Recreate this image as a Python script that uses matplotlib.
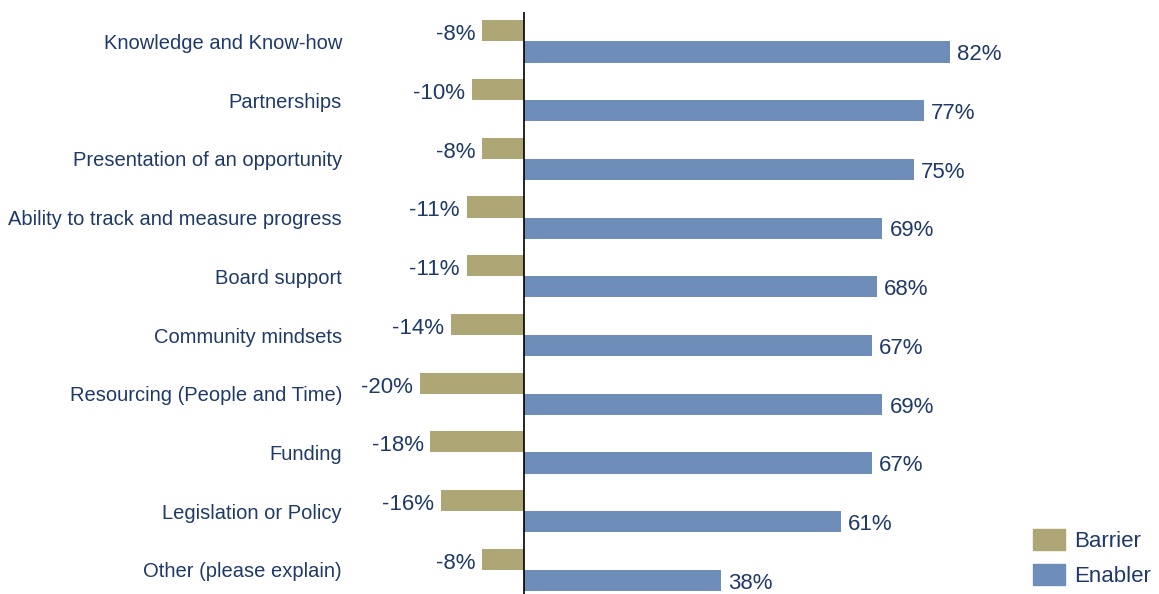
import matplotlib
matplotlib.use("Agg")
import matplotlib.pyplot as plt
from matplotlib.patches import Patch

categories = ["Knowledge and Know-how", "Partnerships", "Presentation of an opportunity",
              "Ability to track and measure progress", "Board support", "Community mindsets",
              "Resourcing (People and Time)", "Funding", "Legislation or Policy",
              "Other (please explain)"]
barrier = [-8, -10, -8, -11, -11, -14, -20, -18, -16, -8]
enabler = [82, 77, 75, 69, 68, 67, 69, 67, 61, 38]
series_names = ["Barrier", "Enabler"]

c_barrier = "#AFA675"
c_enabler = "#6E8DB9"
c_text = "#1F3A68"

plt.rcParams['font.family'] = ['Liberation Sans', 'DejaVu Sans']

W, H = 1159, 594
fig = plt.figure(figsize=(W / 100, H / 100), dpi=100)
ax = fig.add_axes([350 / W, 0, 660 / W, (594 - 12) / H])

ypos = list(range(len(categories)))
bh = 0.36
ax.barh([y - bh / 2 for y in ypos], barrier, height=bh, color=c_barrier, label=series_names[0])
ax.barh([y + bh / 2 for y in ypos], enabler, height=bh, color=c_enabler, label=series_names[1])

for y, b, e in zip(ypos, barrier, enabler):
    ax.annotate(f"{b}%", (b, y - bh / 2), xytext=(-5, -6.8), textcoords="offset points",
                ha="right", va="baseline", fontsize=16, color=c_text)
    ax.annotate(f"{e}%", (e, y + bh / 2), xytext=(5, -6.0), textcoords="offset points",
                ha="left", va="baseline", fontsize=16, color=c_text)

ax.set_xlim((350 - 524) / 5.195, (1010 - 524) / 5.195)
ax.set_ylim(9.41, -0.50)
ax.axvline(0, color="black", lw=1.2)

ax.set_yticks(ypos)
ax.set_yticklabels(categories, fontsize=14.5, color=c_text)
ax.tick_params(axis="y", length=0, pad=5.8)
ax.set_xticks([])
for s in ax.spines.values():
    s.set_visible(False)

handles = [Patch(color=c_barrier), Patch(color=c_enabler)]
fig.legend(handles, series_names, loc="lower left", bbox_to_anchor=(1033 / W, 7 / H),
           frameon=False, fontsize=16, handlelength=1.44, handleheight=1.05,
           handletextpad=0.4, labelspacing=0.55, borderpad=0, borderaxespad=0,
           labelcolor=c_text)

fig.savefig("out.png", dpi=100)
